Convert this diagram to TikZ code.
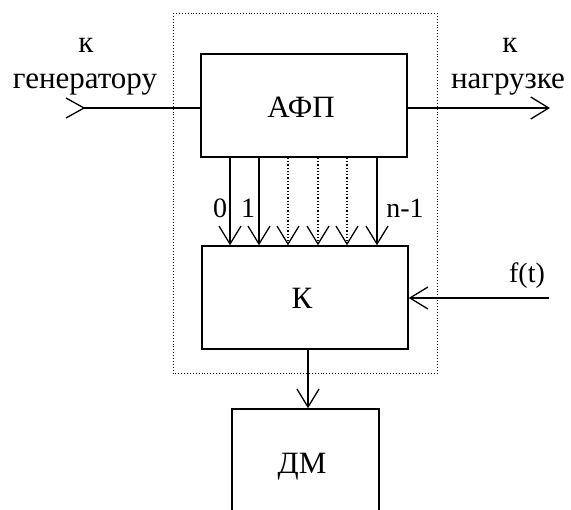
\documentclass[tikz,border=0pt]{standalone}
\usepackage{fontspec}
\setmainfont{Liberation Serif}
\usetikzlibrary{arrows.meta}
\begin{document}
\begin{tikzpicture}[x=1pt,y=-1pt,
  blk/.style={draw,line width=1.4pt,inner sep=0pt},
  lbl/.style={inner sep=0pt,anchor=base,font=\fontsize{31}{34}\selectfont},
  num/.style={inner sep=0pt,anchor=base,font=\fontsize{28}{31}\selectfont},
  arr/.style={line width=1.3pt,-{Straight Barb[length=18pt,width=22pt,line width=1.3pt]}},
  dline/.style={line width=1.3pt,dotted,-{Straight Barb[length=18pt,width=22pt,line width=1.3pt]}},
  frame/.style={draw,line width=0.9pt,dotted}]
\useasboundingbox (0,0) rectangle (571,510);
% dotted frame
\draw[frame] (173,13) rectangle (437,373);
% blocks
\node[blk,minimum width=206pt,minimum height=103pt] (afp) at (304,105.5) {};
\node[blk,minimum width=206pt,minimum height=103pt] (k) at (305,297.5) {};
\node[blk,minimum width=147pt,minimum height=140pt] (dm) at (305.5,479) {};
\node[lbl] (tafp) at (301,118) {АФП};
\node[lbl] (tk) at (302,309) {К};
\node[lbl] (tdm) at (302,474) {ДМ};
% texts
\node[lbl] (k1) at (86,53) {к};
\node[lbl] (gen) at (85,89) {генератору};
\node[lbl] (k2) at (510,53) {к};
\node[lbl] (load) at (508,89) {нагрузке};
\node[num] (n0) at (220,218) {0};
\node[num] (n1) at (248,218) {1};
\node[num] (nn) at (405,218) {n-1};
\node[num] (ft) at (527,283) {f(t)};
% input from generator
\coordinate (gin) at (84,108);
\draw[line width=1.3pt] (gin) -- (afp.west |- gin);
\draw[line width=1.3pt] (gin) -- ++(-18,-10) (gin) -- ++(-18,10);
% output to load
\coordinate (lout) at (550,108);
\draw[arr] (afp.east |- lout) -- (lout);
% f(t)
\coordinate (fin) at (549,298);
\draw[arr] (fin) -- (k.east |- fin);
% parallel lines
\draw[arr] (230,0 |- afp.south) -- (230,0 |- k.north);
\draw[arr] (259,0 |- afp.south) -- (259,0 |- k.north);
\draw[dline] (288,0 |- afp.south) -- (288,0 |- k.north);
\draw[dline] (318,0 |- afp.south) -- (318,0 |- k.north);
\draw[dline] (347,0 |- afp.south) -- (347,0 |- k.north);
\draw[arr] (377,0 |- afp.south) -- (377,0 |- k.north);
% K to DM
\draw[arr] (308,0 |- k.south) -- (308,0 |- dm.north);
\end{tikzpicture}
\end{document}
